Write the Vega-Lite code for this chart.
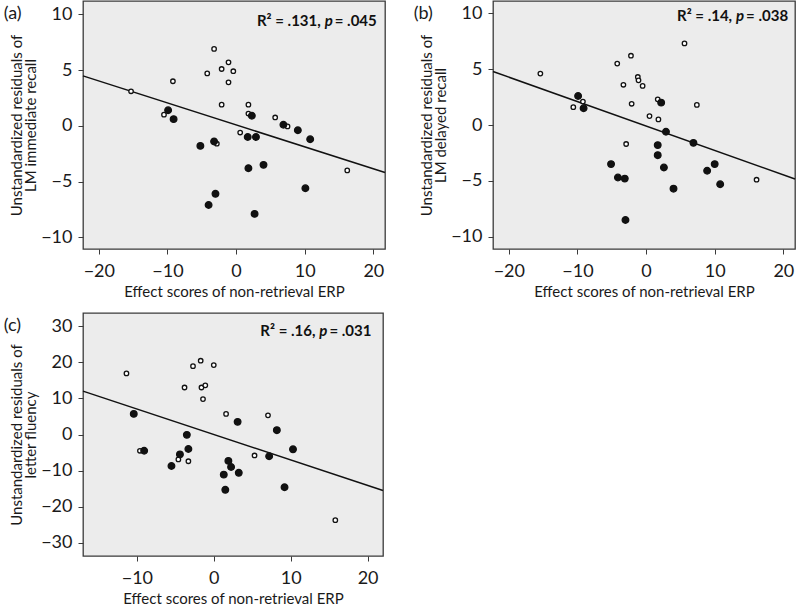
{
  "$schema": "https://vega.github.io/schema/vega-lite/v6.json",
  "background": "white",
  "padding": {"left": 3, "top": 0, "right": 0, "bottom": 0},
  "columns": 2,
  "bounds": "flush",
  "spacing": {"row": 64, "column": 108},
  "datasets": {
    "pts": [
      {"panel": "a", "type": "open", "x": -15.3, "y": 3.1},
      {"panel": "a", "type": "open", "x": -9.2, "y": 4.0},
      {"panel": "a", "type": "open", "x": -3.2, "y": 6.9},
      {"panel": "a", "type": "open", "x": -4.2, "y": 4.7},
      {"panel": "a", "type": "open", "x": -2.1, "y": 5.1},
      {"panel": "a", "type": "open", "x": -1.1, "y": 5.7},
      {"panel": "a", "type": "open", "x": -0.4, "y": 4.9},
      {"panel": "a", "type": "open", "x": -1.1, "y": 3.9},
      {"panel": "a", "type": "open", "x": -2.1, "y": 1.9},
      {"panel": "a", "type": "open", "x": 1.8, "y": 1.9},
      {"panel": "a", "type": "open", "x": 1.8, "y": 1.1},
      {"panel": "a", "type": "open", "x": 5.7, "y": 0.75},
      {"panel": "a", "type": "open", "x": 7.5, "y": -0.05},
      {"panel": "a", "type": "open", "x": -10.5, "y": 1.0},
      {"panel": "a", "type": "open", "x": 0.6, "y": -0.6},
      {"panel": "a", "type": "open", "x": -2.8, "y": -1.6},
      {"panel": "a", "type": "open", "x": 16.2, "y": -4.0},
      {"panel": "a", "type": "filled", "x": -9.9, "y": 1.4},
      {"panel": "a", "type": "filled", "x": -9.1, "y": 0.6},
      {"panel": "a", "type": "filled", "x": 2.3, "y": 0.9},
      {"panel": "a", "type": "filled", "x": 6.9, "y": 0.1},
      {"panel": "a", "type": "filled", "x": 9.0, "y": -0.4},
      {"panel": "a", "type": "filled", "x": 10.8, "y": -1.2},
      {"panel": "a", "type": "filled", "x": 1.7, "y": -1.0},
      {"panel": "a", "type": "filled", "x": 2.9, "y": -1.0},
      {"panel": "a", "type": "filled", "x": -3.2, "y": -1.4},
      {"panel": "a", "type": "filled", "x": -5.2, "y": -1.8},
      {"panel": "a", "type": "filled", "x": 1.8, "y": -3.8},
      {"panel": "a", "type": "filled", "x": 4.0, "y": -3.5},
      {"panel": "a", "type": "filled", "x": 10.1, "y": -5.6},
      {"panel": "a", "type": "filled", "x": -3.0, "y": -6.1},
      {"panel": "a", "type": "filled", "x": -4.0, "y": -7.1},
      {"panel": "a", "type": "filled", "x": 2.7, "y": -7.9},

      {"panel": "b", "type": "open", "x": -15.4, "y": 4.6},
      {"panel": "b", "type": "open", "x": 5.6, "y": 7.3},
      {"panel": "b", "type": "open", "x": -2.2, "y": 6.2},
      {"panel": "b", "type": "open", "x": -4.2, "y": 5.5},
      {"panel": "b", "type": "open", "x": -1.2, "y": 4.3},
      {"panel": "b", "type": "open", "x": -1.1, "y": 4.0},
      {"panel": "b", "type": "open", "x": -3.3, "y": 3.6},
      {"panel": "b", "type": "open", "x": -0.5, "y": 3.5},
      {"panel": "b", "type": "open", "x": -9.2, "y": 2.1},
      {"panel": "b", "type": "open", "x": -10.6, "y": 1.6},
      {"panel": "b", "type": "open", "x": -2.1, "y": 1.9},
      {"panel": "b", "type": "open", "x": 1.7, "y": 2.3},
      {"panel": "b", "type": "open", "x": 0.5, "y": 0.8},
      {"panel": "b", "type": "open", "x": 1.8, "y": 0.5},
      {"panel": "b", "type": "open", "x": 7.4, "y": 1.8},
      {"panel": "b", "type": "open", "x": -2.9, "y": -1.7},
      {"panel": "b", "type": "open", "x": 16.1, "y": -4.9},
      {"panel": "b", "type": "filled", "x": -9.9, "y": 2.6},
      {"panel": "b", "type": "filled", "x": -9.1, "y": 1.5},
      {"panel": "b", "type": "filled", "x": 2.2, "y": 2.0},
      {"panel": "b", "type": "filled", "x": 2.9, "y": -0.6},
      {"panel": "b", "type": "filled", "x": 6.9, "y": -1.6},
      {"panel": "b", "type": "filled", "x": 1.7, "y": -1.8},
      {"panel": "b", "type": "filled", "x": 1.7, "y": -2.7},
      {"panel": "b", "type": "filled", "x": 2.6, "y": -3.8},
      {"panel": "b", "type": "filled", "x": -5.1, "y": -3.5},
      {"panel": "b", "type": "filled", "x": -4.1, "y": -4.7},
      {"panel": "b", "type": "filled", "x": -3.1, "y": -4.8},
      {"panel": "b", "type": "filled", "x": 10.0, "y": -3.5},
      {"panel": "b", "type": "filled", "x": 8.9, "y": -4.1},
      {"panel": "b", "type": "filled", "x": 10.8, "y": -5.3},
      {"panel": "b", "type": "filled", "x": 4.0, "y": -5.7},
      {"panel": "b", "type": "filled", "x": -3.0, "y": -8.5},

      {"panel": "c", "type": "open", "x": -11.35, "y": 16.9},
      {"panel": "c", "type": "open", "x": -1.7, "y": 20.4},
      {"panel": "c", "type": "open", "x": -2.7, "y": 18.9},
      {"panel": "c", "type": "open", "x": 0.0, "y": 19.2},
      {"panel": "c", "type": "open", "x": -3.8, "y": 13.0},
      {"panel": "c", "type": "open", "x": -1.6, "y": 13.0},
      {"panel": "c", "type": "open", "x": -1.1, "y": 13.6},
      {"panel": "c", "type": "open", "x": -1.4, "y": 9.8},
      {"panel": "c", "type": "open", "x": 1.6, "y": 5.7},
      {"panel": "c", "type": "open", "x": 7.05, "y": 5.3},
      {"panel": "c", "type": "open", "x": -9.6, "y": -4.5},
      {"panel": "c", "type": "open", "x": -4.6, "y": -6.9},
      {"panel": "c", "type": "open", "x": -3.3, "y": -7.4},
      {"panel": "c", "type": "open", "x": 5.3, "y": -5.8},
      {"panel": "c", "type": "open", "x": 15.8, "y": -23.7},
      {"panel": "c", "type": "filled", "x": -10.4, "y": 5.7},
      {"panel": "c", "type": "filled", "x": 3.1, "y": 3.5},
      {"panel": "c", "type": "filled", "x": 8.2, "y": 1.2},
      {"panel": "c", "type": "filled", "x": -3.5, "y": -0.1},
      {"panel": "c", "type": "filled", "x": -9.05, "y": -4.5},
      {"panel": "c", "type": "filled", "x": -3.3, "y": -4.0},
      {"panel": "c", "type": "filled", "x": -4.4, "y": -5.5},
      {"panel": "c", "type": "filled", "x": -5.5, "y": -8.7},
      {"panel": "c", "type": "filled", "x": 10.3, "y": -4.1},
      {"panel": "c", "type": "filled", "x": 7.2, "y": -6.0},
      {"panel": "c", "type": "filled", "x": 1.9, "y": -7.3},
      {"panel": "c", "type": "filled", "x": 2.25, "y": -9.0},
      {"panel": "c", "type": "filled", "x": 3.25, "y": -10.6},
      {"panel": "c", "type": "filled", "x": 1.3, "y": -11.1},
      {"panel": "c", "type": "filled", "x": 1.5, "y": -15.3},
      {"panel": "c", "type": "filled", "x": 9.2, "y": -14.6}
    ],
    "fit": [
      {"panel": "a", "x": -22.3, "y": 4.48},
      {"panel": "a", "x": 21.7, "y": -4.19},
      {"panel": "b", "x": -22.3, "y": 4.79},
      {"panel": "b", "x": 21.7, "y": -4.84},
      {"panel": "c", "x": -17, "y": 12.0},
      {"panel": "c", "x": 22, "y": -15.5}
    ],
    "one": [{}]
  },
  "config": {
    "font": "Lato",
    "view": {"fill": "#ececec", "stroke": "#3a3a3a", "strokeWidth": 1.3},
    "axis": {
      "grid": false,
      "domain": false,
      "tickColor": "#3a3a3a",
      "tickSize": 5,
      "labelFont": "Lato",
      "labelFontSize": 18,
      "labelColor": "#1a1a1a",
      "titleFont": "Lato",
      "titleFontSize": 15,
      "titleFontWeight": "normal",
      "titleColor": "#1a1a1a",
      "labelPadding": 8,
      "titlePadding": 4
    },
    "axisY": {"titleLineHeight": 14, "titlePadding": 2, "labelPadding": 6},
    "title": {"font": "Lato", "fontSize": 18, "fontWeight": "normal", "anchor": "start", "frame": "bounds", "color": "#1a1a1a"}
  },
  "concat": [
    {
      "width": 302, "height": 248,
      "title": {"text": "(a)", "dy": 26, "dx": -6},
      "layer": [
        {
          "data": {"name": "fit"},
          "transform": [{"filter": "datum.panel == 'a'"}],
          "mark": {"type": "line", "color": "#111", "strokeWidth": 1.5},
          "encoding": {
            "x": {"field": "x", "type": "quantitative", "scale": {"domain": [-22.3, 21.7], "nice": false, "zero": false}, "axis": {"values": [-20, -10, 0, 10, 20], "title": "Effect scores of non-retrieval ERP"}},
            "y": {"field": "y", "type": "quantitative", "scale": {"domain": [-11.05, 11.2], "nice": false, "zero": false}, "axis": {"values": [-10, -5, 0, 5, 10], "title": ["Unstandardized residuals of", "LM immediate recall"]}}
          }
        },
        {
          "data": {"name": "pts"},
          "transform": [{"filter": "datum.panel == 'a'"}],
          "mark": {"type": "point", "shape": "circle", "filled": true, "stroke": "#111", "strokeWidth": 1.3, "opacity": 1},
          "encoding": {
            "x": {"field": "x", "type": "quantitative"},
            "y": {"field": "y", "type": "quantitative"},
            "fill": {"field": "type", "type": "nominal", "scale": {"domain": ["filled", "open"], "range": ["#111", "white"]}, "legend": null},
            "size": {"field": "type", "type": "nominal", "scale": {"domain": ["filled", "open"], "range": [44, 20]}, "legend": null}
          }
        },
        {
          "data": {"name": "one"},
          "mark": {"type": "text", "text": "= .045", "align": "right", "baseline": "alphabetic", "fontSize": 15, "fontWeight": "bold", "color": "#111"},
          "encoding": {"x": {"datum": 20.5}, "y": {"datum": 9.0}}
        },
        {
          "data": {"name": "one"},
          "mark": {"type": "text", "text": "p", "align": "right", "baseline": "alphabetic", "dx": -44, "fontSize": 15, "fontWeight": "bold", "fontStyle": "italic", "color": "#111"},
          "encoding": {"x": {"datum": 20.5}, "y": {"datum": 9.0}}
        },
        {
          "data": {"name": "one"},
          "mark": {"type": "text", "text": "R² = .131,", "align": "right", "baseline": "alphabetic", "dx": -56, "fontSize": 15, "fontWeight": "bold", "color": "#111"},
          "encoding": {"x": {"datum": 20.5}, "y": {"datum": 9.0}}
        }
      ]
    },
    {
      "width": 302, "height": 248,
      "title": {"text": "(b)", "dy": 26, "dx": -6},
      "layer": [
        {
          "data": {"name": "fit"},
          "transform": [{"filter": "datum.panel == 'b'"}],
          "mark": {"type": "line", "color": "#111", "strokeWidth": 1.5},
          "encoding": {
            "x": {"field": "x", "type": "quantitative", "scale": {"domain": [-22.3, 21.7], "nice": false, "zero": false}, "axis": {"values": [-20, -10, 0, 10, 20], "title": "Effect scores of non-retrieval ERP"}},
            "y": {"field": "y", "type": "quantitative", "scale": {"domain": [-11.1, 11.1], "nice": false, "zero": false}, "axis": {"values": [-10, -5, 0, 5, 10], "title": ["Unstandardized residuals of", "LM delayed recall"]}}
          }
        },
        {
          "data": {"name": "pts"},
          "transform": [{"filter": "datum.panel == 'b'"}],
          "mark": {"type": "point", "shape": "circle", "filled": true, "stroke": "#111", "strokeWidth": 1.3, "opacity": 1},
          "encoding": {
            "x": {"field": "x", "type": "quantitative"},
            "y": {"field": "y", "type": "quantitative"},
            "fill": {"field": "type", "type": "nominal", "scale": {"domain": ["filled", "open"], "range": ["#111", "white"]}, "legend": null},
            "size": {"field": "type", "type": "nominal", "scale": {"domain": ["filled", "open"], "range": [44, 20]}, "legend": null}
          }
        },
        {
          "data": {"name": "one"},
          "mark": {"type": "text", "text": "= .038", "align": "right", "baseline": "alphabetic", "fontSize": 15, "fontWeight": "bold", "color": "#111"},
          "encoding": {"x": {"datum": 20.7}, "y": {"datum": 9.3}}
        },
        {
          "data": {"name": "one"},
          "mark": {"type": "text", "text": "p", "align": "right", "baseline": "alphabetic", "dx": -44, "fontSize": 15, "fontWeight": "bold", "fontStyle": "italic", "color": "#111"},
          "encoding": {"x": {"datum": 20.7}, "y": {"datum": 9.3}}
        },
        {
          "data": {"name": "one"},
          "mark": {"type": "text", "text": "R² = .14,", "align": "right", "baseline": "alphabetic", "dx": -56, "fontSize": 15, "fontWeight": "bold", "color": "#111"},
          "encoding": {"x": {"datum": 20.7}, "y": {"datum": 9.3}}
        }
      ]
    },
    {
      "width": 300, "height": 243,
      "title": {"text": "(c)", "dy": 26, "dx": -6},
      "layer": [
        {
          "data": {"name": "fit"},
          "transform": [{"filter": "datum.panel == 'c'"}],
          "mark": {"type": "line", "color": "#111", "strokeWidth": 1.5},
          "encoding": {
            "x": {"field": "x", "type": "quantitative", "scale": {"domain": [-17, 22], "nice": false, "zero": false}, "axis": {"values": [-10, 0, 10, 20], "title": "Effect scores of non-retrieval ERP"}},
            "y": {"field": "y", "type": "quantitative", "scale": {"domain": [-33.6, 33.6], "nice": false, "zero": false}, "axis": {"values": [-30, -20, -10, 0, 10, 20, 30], "title": ["Unstandardized residuals of", "letter fluency"]}}
          }
        },
        {
          "data": {"name": "pts"},
          "transform": [{"filter": "datum.panel == 'c'"}],
          "mark": {"type": "point", "shape": "circle", "filled": true, "stroke": "#111", "strokeWidth": 1.3, "opacity": 1},
          "encoding": {
            "x": {"field": "x", "type": "quantitative"},
            "y": {"field": "y", "type": "quantitative"},
            "fill": {"field": "type", "type": "nominal", "scale": {"domain": ["filled", "open"], "range": ["#111", "white"]}, "legend": null},
            "size": {"field": "type", "type": "nominal", "scale": {"domain": ["filled", "open"], "range": [44, 20]}, "legend": null}
          }
        },
        {
          "data": {"name": "one"},
          "mark": {"type": "text", "text": "= .031", "align": "right", "baseline": "alphabetic", "fontSize": 15, "fontWeight": "bold", "color": "#111"},
          "encoding": {"x": {"datum": 20.5}, "y": {"datum": 27.2}}
        },
        {
          "data": {"name": "one"},
          "mark": {"type": "text", "text": "p", "align": "right", "baseline": "alphabetic", "dx": -44, "fontSize": 15, "fontWeight": "bold", "fontStyle": "italic", "color": "#111"},
          "encoding": {"x": {"datum": 20.5}, "y": {"datum": 27.2}}
        },
        {
          "data": {"name": "one"},
          "mark": {"type": "text", "text": "R² = .16,", "align": "right", "baseline": "alphabetic", "dx": -56, "fontSize": 15, "fontWeight": "bold", "color": "#111"},
          "encoding": {"x": {"datum": 20.5}, "y": {"datum": 27.2}}
        }
      ]
    }
  ]
}
